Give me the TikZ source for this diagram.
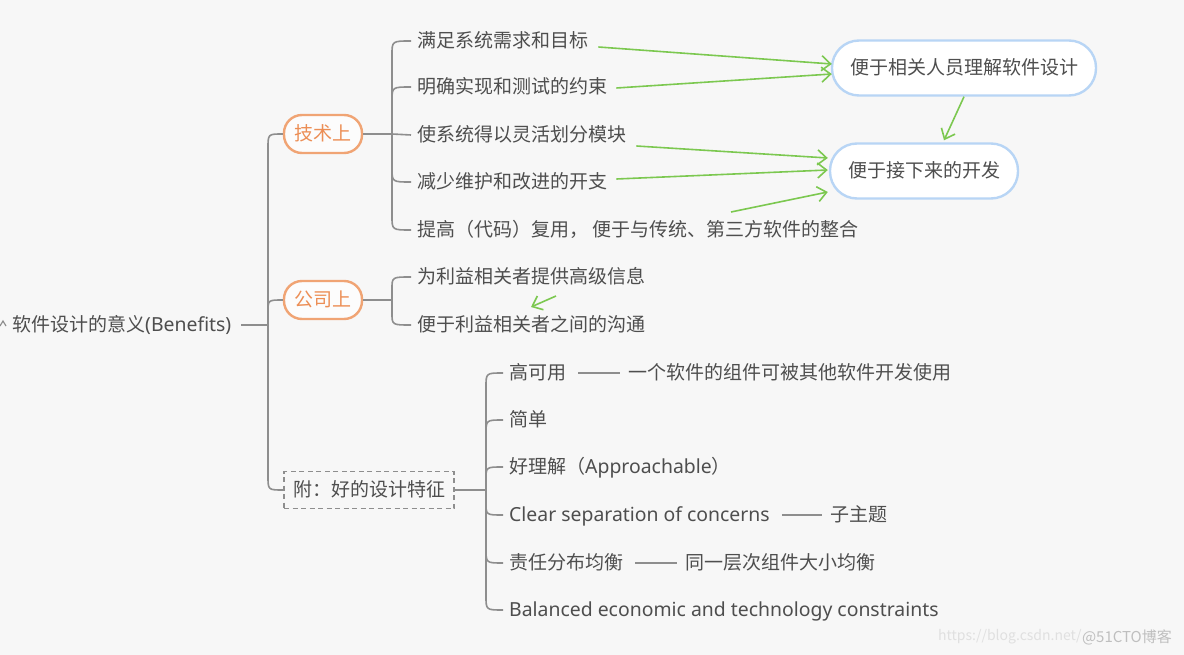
\documentclass[tikz,border=0pt]{standalone}
\usepackage{fontspec}
\setmainfont{Noto Sans CJK SC}
\newfontfamily\latfont{Noto Sans}
\newcommand\lat[1]{{\latfont\fontsize{19.4}{22}\selectfont #1}}
\usetikzlibrary{arrows.meta,calc}
\definecolor{bg}{HTML}{F7F7F7}
\definecolor{txt}{HTML}{4E4E4E}
\definecolor{ln}{HTML}{8E8E8E}
\definecolor{org}{HTML}{F0A474}
\definecolor{orgt}{HTML}{EC8E55}
\definecolor{blu}{HTML}{B8D5F5}
\definecolor{grn}{HTML}{7CC850}
\tikzset{
  base/.style={font=\fontsize{19}{22}\selectfont, text=txt, text height=15pt, text depth=1.5pt},
  item/.style={base, anchor=west, inner xsep=6pt, inner ysep=0pt},
  topic/.style={base, draw=org, line width=2.4pt, text=orgt, rounded corners=18pt, minimum width=78pt, minimum height=38pt, inner xsep=8pt, fill=white!60!bg},
  goal/.style={base, draw=blu, line width=2.4pt, fill=white, rounded corners=27pt, minimum height=55pt, inner xsep=18pt},
  dbox/.style={base, draw=ln, line width=1.6pt, dash pattern=on 5pt off 3.5pt, minimum height=37pt, inner xsep=9pt},
  br/.style={draw=ln, line width=1.6pt},
  sub/.style={draw=ln, line width=1.4pt, shorten <=6pt, shorten >=2pt},
  garr/.style={draw=grn, line width=1.6pt, -{Straight Barb[length=9pt,width=15pt,line width=1.6pt]}},
}
\newcommand\brto[3]{\draw[br] (#1) -- ($(#1 |- #2.west)+(0,#3)$) .. controls (#1 |- #2.west) .. (#2.west);}
\begin{document}
\begin{tikzpicture}[x=1pt,y=-1pt]
\fill[bg] (0,0) rectangle (1184,655);
\useasboundingbox (0,0) rectangle (1184,655);

% root
\node[item, inner xsep=0pt] (root) at (12,325) {软件设计的意义\lat{(Benefits)}};
\draw[ln, line width=1.2pt] (0,326) -- (3,321) -- (6,326);

% level 1
\node[topic] (tech) at (323,134) {技术上};
\node[topic] (comp) at (323,300) {公司上};
\node[dbox] (add) at (369,490) {附：好的设计特征};

\coordinate (j0) at (268,325);
\draw[br] ($(root.east)+(10,0)$) -- (j0);
\brto{j0}{tech}{14}
\brto{j0}{comp}{12}
\brto{j0}{add}{-14}

% tech items
\node[item] (t1) at (411,41) {满足系统需求和目标};
\node[item] (t2) at (411,87) {明确实现和测试的约束};
\node[item] (t3) at (411,135) {使系统得以灵活划分模块};
\node[item] (t4) at (411,182) {减少维护和改进的开支};
\node[item] (t5) at (411,230) {提高（代码）复用， 便于与传统、第三方软件的整合};
\coordinate (j1) at (392,134);
\draw[br] (tech.east) -- (j1);
\brto{j1}{t1}{14}
\brto{j1}{t2}{14}
\draw[br] (j1) -- (t3.west);
\brto{j1}{t4}{-14}
\brto{j1}{t5}{-14}

% company items
\node[item] (c1) at (411,277) {为利益相关者提供高级信息};
\node[item] (c2) at (411,325) {便于利益相关者之间的沟通};
\coordinate (j2) at (392,300);
\draw[br] (comp.east) -- (j2);
\brto{j2}{c1}{12}
\brto{j2}{c2}{-12}

% appendix items
\node[item] (a1) at (503,373) {高可用};
\node[item] (a1s) at (622,373) {一个软件的组件可被其他软件开发使用};
\node[item] (a2) at (503,420) {简单};
\node[item] (a3) at (503,467) {好理解（\lat{Approachable}）};
\node[item] (a4) at (503,515) {\lat{Clear separation of concerns}};
\node[item] (a4s) at (824,515) {子主题};
\node[item] (a5) at (503,563) {责任分布均衡};
\node[item] (a5s) at (679,563) {同一层次组件大小均衡};
\node[item] (a6) at (503,610) {\lat{Balanced economic and technology constraints}};
\coordinate (j3) at (486,490);
\draw[br] (add.east) -- (j3);
\brto{j3}{a1}{14}
\brto{j3}{a2}{14}
\brto{j3}{a3}{12}
\brto{j3}{a4}{-12}
\brto{j3}{a5}{-14}
\brto{j3}{a6}{-14}
\draw[sub] (a1.east) -- (a1s.west);
\draw[sub] (a4.east) -- (a4s.west);
\draw[sub] (a5.east) -- (a5s.west);

% goals
\node[goal] (g1) at (964,68) {便于相关人员理解软件设计};
\node[goal] (g2) at (924,171) {便于接下来的开发};

\draw[garr] ($(t1.east)+(4,6)$) -- ($(g1.west)+(1,-4)$);
\draw[garr] ($(t2.east)+(3,1)$) -- ($(g1.west)+(1,6)$);
\draw[garr] ($(t3.east)+(4,11)$) -- ($(g2.west)+(-1,-13)$);
\draw[garr] ($(t4.east)+(3,-3)$) -- ($(g2.west)+(-1,-1)$);
\draw[garr] ($(t5.west)+(320,-18)$) -- ($(g2.west)+(-1,21)$);
\draw[garr] (g1.south) -- ($(g2.north)+(20,-2)$);
\draw[garr] ($(c1.west)+(145,19)$) -- ($(c1.west)+(120,30)$);

% watermark
\node[anchor=west, inner sep=0pt, font=\fontsize{14}{16}\selectfont, text=black!12] (wm1) at (938,637) {https://blog.csdn.net/};
\node[anchor=west, inner sep=0pt, font=\fontsize{15}{16}\selectfont, text=black!25] (wm2) at (wm1.east) {@51CTO博客};
\end{tikzpicture}
\end{document}
